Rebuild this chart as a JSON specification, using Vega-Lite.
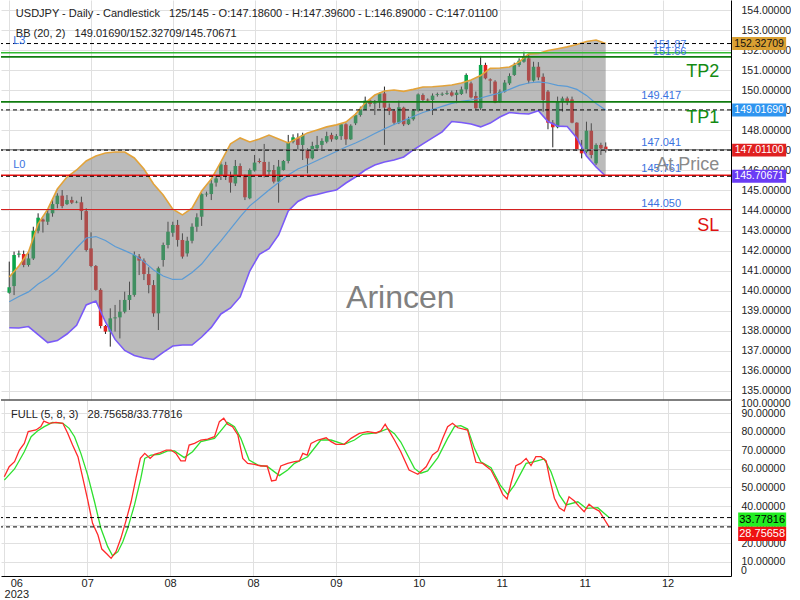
{
"$schema": "https://vega.github.io/schema/vega-lite/v6.json",
"padding": 0,
"autosize": {"type": "pad"},
"background": "white",
"spacing": 0,
"bounds": "flush",
"config": {"view": {"stroke": null}, "font": "Liberation Sans"},
"datasets": {
"candles": [
{"i":0,"o":139.90,"h":141.45,"l":139.85,"c":140.17},{"i":1,"o":140.23,"h":141.95,"l":139.78,"c":141.78},{"i":2,"o":141.80,"h":142.00,"l":141.66,"c":141.85},{"i":3,"o":141.83,"h":142.00,"l":141.17,"c":141.28},{"i":4,"o":141.28,"h":141.86,"l":141.20,"c":141.61},
{"i":5,"o":141.61,"h":143.19,"l":141.53,"c":142.99},{"i":6,"o":142.99,"h":143.86,"l":142.86,"c":143.64},{"i":7,"o":143.55,"h":143.60,"l":142.90,"c":143.45},{"i":8,"o":143.44,"h":144.02,"l":143.28,"c":143.86},{"i":9,"o":143.86,"h":144.61,"l":143.69,"c":144.32},
{"i":10,"o":144.32,"h":144.86,"l":144.11,"c":144.74},{"i":11,"o":144.74,"h":145.02,"l":144.11,"c":144.22},{"i":12,"o":144.32,"h":144.77,"l":144.27,"c":144.52},{"i":13,"o":144.52,"h":144.69,"l":144.32,"c":144.39},{"i":14,"o":144.40,"h":144.49,"l":144.36,"c":144.43},
{"i":15,"o":144.41,"h":144.69,"l":143.53,"c":143.97},{"i":16,"o":143.97,"h":144.11,"l":141.95,"c":142.03},{"i":17,"o":142.11,"h":142.91,"l":141.17,"c":141.23},{"i":18,"o":141.23,"h":141.28,"l":140.00,"c":140.04},{"i":19,"o":140.04,"h":140.12,"l":138.12,"c":138.24},
{"i":20,"o":138.24,"h":138.29,"l":137.84,"c":137.96},{"i":21,"o":137.96,"h":139.12,"l":137.21,"c":138.62},{"i":22,"o":138.62,"h":139.29,"l":137.96,"c":138.67},{"i":23,"o":138.67,"h":139.54,"l":137.62,"c":138.95},{"i":24,"o":138.95,"h":139.95,"l":138.87,"c":139.54},
{"i":25,"o":139.54,"h":140.45,"l":139.04,"c":139.79},{"i":26,"o":139.79,"h":141.95,"l":139.70,"c":141.78},{"i":27,"o":141.70,"h":141.83,"l":140.78,"c":141.50},{"i":28,"o":141.50,"h":141.61,"l":140.53,"c":140.83},{"i":29,"o":140.83,"h":141.17,"l":139.87,"c":140.28},
{"i":30,"o":140.28,"h":140.53,"l":138.70,"c":138.87},{"i":31,"o":138.87,"h":141.20,"l":138.04,"c":141.12},{"i":32,"o":141.53,"h":142.40,"l":141.20,"c":142.28},{"i":33,"o":142.28,"h":143.44,"l":142.11,"c":142.94},{"i":34,"o":142.89,"h":143.44,"l":142.69,"c":143.28},
{"i":35,"o":143.28,"h":143.53,"l":142.20,"c":142.53},{"i":36,"o":142.53,"h":142.86,"l":141.60,"c":141.70},{"i":37,"o":141.86,"h":142.69,"l":141.70,"c":142.49},{"i":38,"o":142.49,"h":143.36,"l":142.36,"c":143.19},{"i":39,"o":143.19,"h":143.86,"l":142.94,"c":143.66},
{"i":40,"o":143.69,"h":144.86,"l":143.23,"c":144.82},{"i":41,"o":144.80,"h":144.94,"l":144.69,"c":144.84},{"i":42,"o":144.82,"h":145.52,"l":144.52,"c":145.35},{"i":43,"o":145.39,"h":145.77,"l":145.19,"c":145.60},{"i":44,"o":145.72,"h":146.43,"l":145.52,"c":146.30},
{"i":45,"o":146.27,"h":146.43,"l":145.52,"c":145.72},{"i":46,"o":145.72,"h":145.94,"l":144.89,"c":145.39},{"i":47,"o":145.35,"h":146.52,"l":145.22,"c":146.22},{"i":48,"o":146.22,"h":146.35,"l":145.65,"c":145.72},{"i":49,"o":145.72,"h":145.80,"l":144.52,"c":144.66},
{"i":50,"o":144.61,"h":146.10,"l":144.56,"c":146.02},{"i":51,"o":145.99,"h":146.77,"l":145.94,"c":146.39},{"i":52,"o":146.47,"h":146.60,"l":146.35,"c":146.42},{"i":53,"o":146.42,"h":147.32,"l":145.65,"c":145.72},{"i":54,"o":145.94,"h":146.43,"l":145.77,"c":146.02},
{"i":55,"o":146.02,"h":146.27,"l":145.35,"c":145.44},{"i":56,"o":145.44,"h":146.52,"l":144.39,"c":146.19},{"i":57,"o":146.02,"h":146.52,"l":145.99,"c":146.47},{"i":58,"o":146.47,"h":147.77,"l":146.35,"c":147.40},{"i":59,"o":147.43,"h":147.80,"l":147.35,"c":147.65},
{"i":60,"o":147.63,"h":147.85,"l":147.02,"c":147.27},{"i":61,"o":147.27,"h":147.88,"l":146.52,"c":147.77},{"i":62,"o":147.05,"h":147.10,"l":145.85,"c":146.60},{"i":63,"o":146.60,"h":147.43,"l":146.55,"c":147.22},{"i":64,"o":147.10,"h":147.72,"l":147.02,"c":147.27},
{"i":65,"o":147.27,"h":147.60,"l":147.02,"c":147.47},{"i":66,"o":147.43,"h":147.93,"l":147.35,"c":147.71},{"i":67,"o":147.77,"h":147.88,"l":147.43,"c":147.55},{"i":68,"o":147.55,"h":147.81,"l":147.52,"c":147.71},{"i":69,"o":147.71,"h":148.35,"l":147.52,"c":148.30},
{"i":70,"o":148.30,"h":148.35,"l":147.27,"c":147.55},{"i":71,"o":147.55,"h":148.30,"l":147.52,"c":148.23},{"i":72,"o":148.35,"h":148.85,"l":148.26,"c":148.76},{"i":73,"o":148.76,"h":149.18,"l":148.68,"c":149.05},{"i":74,"o":149.05,"h":149.68,"l":149.01,"c":149.48},
{"i":75,"o":149.48,"h":149.54,"l":149.18,"c":149.31},{"i":76,"o":149.33,"h":149.51,"l":148.76,"c":149.37},{"i":77,"o":149.43,"h":149.88,"l":149.10,"c":149.84},{"i":78,"o":149.84,"h":150.18,"l":147.27,"c":149.13},{"i":79,"o":149.13,"h":149.34,"l":148.76,"c":148.96},
{"i":80,"o":148.96,"h":149.05,"l":148.26,"c":148.38},{"i":81,"o":148.38,"h":149.48,"l":148.31,"c":149.15},{"i":82,"o":149.13,"h":149.18,"l":148.21,"c":148.30},{"i":83,"o":148.30,"h":148.68,"l":148.26,"c":148.55},{"i":84,"o":148.55,"h":149.05,"l":148.48,"c":148.98},
{"i":85,"o":148.98,"h":149.84,"l":148.93,"c":149.79},{"i":86,"o":149.76,"h":149.84,"l":149.43,"c":149.51},{"i":87,"o":149.53,"h":149.59,"l":149.43,"c":149.49},{"i":88,"o":149.51,"h":149.84,"l":148.76,"c":149.73},{"i":89,"o":149.77,"h":149.88,"l":149.68,"c":149.81},
{"i":90,"o":149.78,"h":149.89,"l":149.71,"c":149.82},{"i":91,"o":149.82,"h":149.98,"l":149.76,"c":149.86},{"i":92,"o":149.89,"h":149.98,"l":149.68,"c":149.73},{"i":93,"o":149.76,"h":150.01,"l":149.35,"c":149.88},{"i":94,"o":149.81,"h":150.18,"l":149.76,"c":150.04},
{"i":95,"o":150.04,"h":150.84,"l":149.84,"c":150.76},{"i":96,"o":150.34,"h":150.43,"l":149.59,"c":149.64},{"i":97,"o":149.71,"h":149.93,"l":149.05,"c":149.10},{"i":98,"o":149.10,"h":151.71,"l":149.01,"c":151.26},{"i":99,"o":151.26,"h":151.37,"l":150.54,"c":150.59},
{"i":100,"o":150.54,"h":150.59,"l":149.84,"c":150.48},{"i":101,"o":150.43,"h":150.50,"l":149.35,"c":149.38},{"i":102,"o":149.43,"h":150.04,"l":149.38,"c":149.93},{"i":103,"o":149.93,"h":150.51,"l":149.88,"c":150.38},{"i":104,"o":150.34,"h":150.84,"l":150.26,"c":150.71},
{"i":105,"o":150.76,"h":151.37,"l":150.71,"c":151.26},{"i":106,"o":151.26,"h":151.59,"l":151.17,"c":151.47},{"i":107,"o":151.42,"h":151.92,"l":151.37,"c":151.67},{"i":108,"o":151.59,"h":151.76,"l":150.34,"c":150.48},{"i":109,"o":150.48,"h":151.42,"l":150.43,"c":151.17},
{"i":110,"o":151.17,"h":151.40,"l":150.50,"c":150.64},{"i":111,"o":150.67,"h":150.84,"l":148.93,"c":149.51},{"i":112,"o":149.93,"h":150.01,"l":148.05,"c":148.38},{"i":113,"o":148.38,"h":148.51,"l":147.15,"c":148.15},{"i":114,"o":148.15,"h":149.68,"l":148.10,"c":149.43},
{"i":115,"o":149.43,"h":149.68,"l":148.93,"c":149.59},{"i":116,"o":149.59,"h":149.68,"l":149.26,"c":149.43},{"i":117,"o":149.54,"h":149.68,"l":148.35,"c":148.38},{"i":118,"o":148.38,"h":148.40,"l":146.98,"c":147.02},{"i":119,"o":147.02,"h":147.52,"l":146.60,"c":146.85},
{"i":120,"o":146.93,"h":148.43,"l":146.85,"c":147.98},{"i":121,"o":147.98,"h":148.35,"l":146.60,"c":146.77},{"i":122,"o":146.35,"h":147.35,"l":146.27,"c":147.27},{"i":123,"o":147.27,"h":147.38,"l":146.77,"c":147.10},{"i":124,"o":147.186,"h":147.396,"l":146.89,"c":147.011}
],
"bb": [
{"i":0,"up":140.68,"mid":139.45,"lo":138.15},{"i":2,"up":141.23,"mid":139.71,"lo":138.14},{"i":4,"up":141.93,"mid":139.94,"lo":138.21},{"i":6,"up":143.33,"mid":140.33,"lo":137.81},{"i":8,"up":144.07,"mid":140.63,"lo":137.41},
{"i":10,"up":145.07,"mid":141.03,"lo":137.51},{"i":12,"up":145.67,"mid":141.58,"lo":137.84},{"i":14,"up":146.02,"mid":142.13,"lo":138.27},{"i":16,"up":146.47,"mid":142.63,"lo":139.29},{"i":18,"up":146.72,"mid":142.70,"lo":139.49},
{"i":20,"up":146.87,"mid":142.50,"lo":138.44},{"i":22,"up":146.92,"mid":142.20,"lo":137.57},{"i":24,"up":146.92,"mid":142.00,"lo":137.02},{"i":26,"up":146.62,"mid":141.78,"lo":136.77},{"i":28,"up":146.07,"mid":141.45,"lo":136.64},
{"i":30,"up":145.32,"mid":141.03,"lo":136.57},{"i":32,"up":144.77,"mid":140.73,"lo":136.92},{"i":34,"up":144.07,"mid":140.56,"lo":137.24},{"i":36,"up":143.78,"mid":140.58,"lo":137.29},{"i":38,"up":144.12,"mid":140.91,"lo":137.29},
{"i":40,"up":144.97,"mid":141.33,"lo":137.69},{"i":42,"up":145.57,"mid":141.93,"lo":138.17},{"i":44,"up":146.42,"mid":142.48,"lo":138.84},{"i":46,"up":147.32,"mid":143.08,"lo":139.14},{"i":48,"up":147.62,"mid":143.68,"lo":139.69},
{"i":50,"up":147.42,"mid":144.23,"lo":140.98},{"i":52,"up":147.57,"mid":144.62,"lo":141.81},{"i":54,"up":147.76,"mid":145.02,"lo":142.10},{"i":56,"up":147.57,"mid":145.40,"lo":142.78},{"i":58,"up":147.37,"mid":145.77,"lo":143.98},
{"i":60,"up":147.62,"mid":146.07,"lo":144.45},{"i":62,"up":147.87,"mid":146.27,"lo":144.70},{"i":64,"up":148.02,"mid":146.49,"lo":144.80},{"i":66,"up":148.17,"mid":146.72,"lo":144.92},{"i":68,"up":148.27,"mid":146.94,"lo":145.02},
{"i":70,"up":148.41,"mid":147.17,"lo":145.37},{"i":72,"up":148.81,"mid":147.37,"lo":145.67},{"i":74,"up":149.36,"mid":147.59,"lo":146.02},{"i":76,"up":149.76,"mid":147.84,"lo":146.27},{"i":78,"up":149.96,"mid":148.07,"lo":146.42},
{"i":80,"up":150.01,"mid":148.29,"lo":146.52},{"i":82,"up":149.94,"mid":148.49,"lo":146.67},{"i":84,"up":150.04,"mid":148.69,"lo":147.02},{"i":86,"up":150.16,"mid":148.89,"lo":147.32},{"i":88,"up":150.17,"mid":149.04,"lo":147.62},
{"i":90,"up":150.21,"mid":149.19,"lo":147.92},{"i":92,"up":150.26,"mid":149.34,"lo":148.44},{"i":94,"up":150.36,"mid":149.44,"lo":148.39},{"i":96,"up":150.51,"mid":149.51,"lo":148.31},{"i":98,"up":150.73,"mid":149.61,"lo":148.17},
{"i":100,"up":151.09,"mid":149.74,"lo":148.36},{"i":102,"up":151.11,"mid":149.86,"lo":148.66},{"i":104,"up":151.16,"mid":150.04,"lo":148.89},{"i":106,"up":151.41,"mid":150.24,"lo":148.84},{"i":108,"up":151.81,"mid":150.36,"lo":148.81},
{"i":110,"up":151.83,"mid":150.42,"lo":148.98},{"i":112,"up":151.98,"mid":150.36,"lo":148.44},{"i":114,"up":152.07,"mid":150.24,"lo":148.21},{"i":116,"up":152.16,"mid":150.19,"lo":148.19},{"i":118,"up":152.28,"mid":150.04,"lo":147.62},
{"i":120,"up":152.43,"mid":149.74,"lo":146.72},{"i":122,"up":152.50,"mid":149.34,"lo":146.17},{"i":124,"up":152.327,"mid":149.017,"lo":145.707}
],
"k": [
{"i":0,"v":55.8},{"i":1.0,"v":61.2},{"i":2.1,"v":63.9},{"i":3.1,"v":70.2},{"i":4.1,"v":73.8},{"i":4.9,"v":80.1},{"i":6.5,"v":81.0},{"i":7.5,"v":82.8},{"i":8.1,"v":85.8},{"i":9.2,"v":84.6},
{"i":10.6,"v":85.1},{"i":12.0,"v":84.6},{"i":13.0,"v":79.2},{"i":14.0,"v":72.9},{"i":15.1,"v":66.6},{"i":16.1,"v":55.0},{"i":17.1,"v":43.3},{"i":18.1,"v":30.7},{"i":19.2,"v":24.4},{"i":20.0,"v":16.8},
{"i":21.1,"v":14.0},{"i":21.9,"v":11.8},{"i":22.9,"v":15.4},{"i":23.9,"v":22.6},{"i":24.9,"v":31.6},{"i":26.0,"v":42.3},{"i":27.0,"v":55.0},{"i":27.9,"v":65.7},{"i":28.8,"v":68.4},{"i":29.9,"v":65.7},
{"i":30.8,"v":67.9},{"i":32.0,"v":68.8},{"i":33.2,"v":70.2},{"i":34.2,"v":70.2},{"i":35.2,"v":68.4},{"i":36.2,"v":64.3},{"i":37.1,"v":64.3},{"i":37.9,"v":72.9},{"i":39.0,"v":73.8},{"i":40.3,"v":75.6},
{"i":41.7,"v":76.1},{"i":43.1,"v":77.4},{"i":44.1,"v":85.5},{"i":45.0,"v":87.3},{"i":45.8,"v":84.1},{"i":46.8,"v":82.8},{"i":47.9,"v":78.3},{"i":48.9,"v":65.7},{"i":49.9,"v":63.0},{"i":51.3,"v":62.5},
{"i":52.6,"v":61.6},{"i":53.9,"v":61.6},{"i":54.8,"v":53.5},{"i":55.7,"v":54.0},{"i":56.7,"v":61.6},{"i":58.1,"v":63.0},{"i":59.5,"v":63.9},{"i":60.5,"v":64.3},{"i":61.2,"v":68.4},{"i":62.1,"v":67.5},
{"i":62.9,"v":73.8},{"i":64.3,"v":75.6},{"i":66.0,"v":76.8},{"i":67.0,"v":74.7},{"i":68.0,"v":73.3},{"i":69.7,"v":73.3},{"i":71.1,"v":76.5},{"i":72.8,"v":79.2},{"i":74.5,"v":80.1},{"i":76.2,"v":79.4},
{"i":77.2,"v":80.5},{"i":78.1,"v":84.1},{"i":78.9,"v":80.5},{"i":80.0,"v":75.6},{"i":81.3,"v":69.3},{"i":83.0,"v":59.4},{"i":84.8,"v":57.1},{"i":86.5,"v":61.2},{"i":87.8,"v":67.5},{"i":88.9,"v":69.7},
{"i":89.9,"v":76.5},{"i":90.9,"v":82.8},{"i":91.9,"v":84.6},{"i":93.0,"v":82.2},{"i":95.0,"v":81.0},{"i":96.7,"v":63.6},{"i":98.1,"v":63.0},{"i":99.8,"v":59.4},{"i":101.2,"v":52.3},{"i":102.2,"v":46.3},
{"i":103.1,"v":43.8},{"i":103.9,"v":52.3},{"i":104.9,"v":61.8},{"i":105.9,"v":63.0},{"i":107.0,"v":65.7},{"i":108.0,"v":61.8},{"i":109.0,"v":66.6},{"i":110.0,"v":66.6},{"i":111.1,"v":64.3},{"i":111.9,"v":54.0},
{"i":112.8,"v":44.2},{"i":113.8,"v":39.1},{"i":114.8,"v":37.3},{"i":115.8,"v":45.0},{"i":116.9,"v":42.7},{"i":117.9,"v":39.7},{"i":118.9,"v":37.0},{"i":119.9,"v":41.0},{"i":120.9,"v":38.8},{"i":122.0,"v":37.3},
{"i":123.0,"v":33.0},{"i":124,"v":28.75658}
],
"d": [
{"i":0,"v":54.0},{"i":2.1,"v":60.0},{"i":4.1,"v":69.3},{"i":5.5,"v":77.4},{"i":6.8,"v":80.5},{"i":8.2,"v":82.8},{"i":9.9,"v":85.1},{"i":12.0,"v":84.6},{"i":13.3,"v":81.9},{"i":14.4,"v":77.4},
{"i":15.7,"v":68.4},{"i":17.1,"v":56.7},{"i":18.5,"v":42.3},{"i":19.8,"v":28.0},{"i":21.2,"v":18.1},{"i":22.2,"v":13.2},{"i":23.3,"v":15.4},{"i":24.3,"v":20.8},{"i":25.3,"v":28.0},{"i":26.7,"v":40.6},
{"i":28.0,"v":55.0},{"i":28.8,"v":65.7},{"i":30.1,"v":67.5},{"i":31.8,"v":67.9},{"i":33.5,"v":69.7},{"i":34.9,"v":69.7},{"i":36.9,"v":66.1},{"i":38.6,"v":69.3},{"i":40.3,"v":74.7},{"i":43.1,"v":76.5},
{"i":44.8,"v":81.9},{"i":45.8,"v":85.1},{"i":47.2,"v":82.8},{"i":48.5,"v":76.5},{"i":50.2,"v":64.8},{"i":52.0,"v":62.1},{"i":54.0,"v":61.2},{"i":56.4,"v":56.4},{"i":58.1,"v":59.4},{"i":59.5,"v":63.0},
{"i":62.2,"v":66.6},{"i":64.9,"v":75.6},{"i":67.0,"v":75.6},{"i":69.7,"v":73.3},{"i":71.8,"v":75.6},{"i":73.5,"v":78.7},{"i":76.6,"v":79.6},{"i":78.6,"v":81.7},{"i":80.0,"v":79.0},{"i":81.3,"v":74.5},
{"i":84.1,"v":60.3},{"i":85.4,"v":57.7},{"i":86.8,"v":58.9},{"i":88.9,"v":66.1},{"i":90.9,"v":76.5},{"i":92.3,"v":82.8},{"i":93.6,"v":83.3},{"i":95.0,"v":81.5},{"i":96.4,"v":71.1},{"i":97.7,"v":63.9},
{"i":99.8,"v":60.7},{"i":101.7,"v":51.3},{"i":103.2,"v":46.3},{"i":104.6,"v":51.3},{"i":107.0,"v":63.0},{"i":108.7,"v":63.9},{"i":110.7,"v":65.4},{"i":112.1,"v":58.5},{"i":113.8,"v":46.0},{"i":115.2,"v":40.6},
{"i":117.6,"v":42.3},{"i":119.3,"v":38.8},{"i":121.7,"v":39.1},{"i":124,"v":33.77816}
]
},
"vconcat": [
{
"width": 730, "height": 400,
"resolve": {"axis": {"x": "independent", "y": "independent"}},
"layer": [
{"data": {"name": "candles"},
 "mark": {"type": "rule", "color": "#222", "strokeWidth": 1},
 "encoding": {
  "x": {"field": "i", "type": "quantitative", "scale": {"domain": [-0.677, 149.01], "nice": false, "zero": false},
        "axis": {"values": [0,17,34,51,68,85,102,119,136], "labels": false, "ticks": false, "domain": false, "grid": true, "gridColor": "#e0e0e0", "title": null}},
  "y": {"field": "l", "type": "quantitative", "scale": {"domain": [134.548, 154.499], "nice": false, "zero": false},
        "axis": {"orient": "right", "values": [135,136,137,138,139,140,141,142,143,144,145,146,147,148,149,150,151,152,153,154], "format": ".5f", "grid": true, "gridColor": "#e0e0e0", "ticks": false, "labelPadding": 10, "domainColor": "#000", "labelFontSize": 10.5, "labelColor": "#222", "title": null, "labelOverlap": false}},
  "y2": {"field": "h"}
 }},
{"data": {"name": "candles"},
 "mark": {"type": "bar", "width": 3.6},
 "encoding": {
  "x": {"field": "i", "type": "quantitative", "axis": null},
  "y": {"field": "o", "type": "quantitative", "axis": null},
  "y2": {"field": "c"},
  "color": {"condition": {"test": "datum.c >= datum.o", "value": "#0aa64a"}, "value": "#e3211f"}
 }},
{"data": {"name": "bb"},
 "mark": {"type": "area", "color": "#777777", "opacity": 0.5},
 "encoding": {
  "x": {"field": "i", "type": "quantitative", "axis": null},
  "y": {"field": "up", "type": "quantitative", "axis": null},
  "y2": {"field": "lo"}
 }},
{"data": {"name": "bb"},
 "mark": {"type": "line", "color": "#e3a33a", "strokeWidth": 1.6},
 "encoding": {"x": {"field": "i", "type": "quantitative", "axis": null}, "y": {"field": "up", "type": "quantitative", "axis": null}}},
{"data": {"name": "bb"},
 "mark": {"type": "line", "color": "#5b9bd5", "strokeWidth": 1.2},
 "encoding": {"x": {"field": "i", "type": "quantitative", "axis": null}, "y": {"field": "mid", "type": "quantitative", "axis": null}}},
{"data": {"name": "bb"},
 "mark": {"type": "line", "color": "#7a5af8", "strokeWidth": 1.6},
 "encoding": {"x": {"field": "i", "type": "quantitative", "axis": null}, "y": {"field": "lo", "type": "quantitative", "axis": null}}},
{"data": {"values": [{"p":151.87,"name":"L3"},{"p":151.66,"name":"TP2"},{"p":149.417,"name":"TP1"},{"p":147.041,"name":"Price"},{"p":145.761,"name":"L0"},{"p":144.05,"name":"SL"}]},
 "mark": {"type": "rule"},
 "encoding": {
  "y": {"field": "p", "type": "quantitative", "axis": null},
  "strokeWidth": {"condition": {"test": "datum.name == 'SL' || datum.name == 'Price'", "value": 1.2}, "value": 1.6},
  "color": {"condition": [
    {"test": "datum.name == 'L3'", "value": "#33bb33"},
    {"test": "datum.name == 'TP2' || datum.name == 'TP1'", "value": "#107c10"},
    {"test": "datum.name == 'Price'", "value": "#8c8c8c"},
    {"test": "datum.name == 'SL'", "value": "#d42020"}], "value": "#f01010"}
 }},
{"data": {"values": [{"p":152.32709},{"p":149.0169},{"p":147.011},{"p":145.70671}]},
 "mark": {"type": "rule", "color": "#000", "strokeWidth": 1, "strokeDash": [4,3]},
 "encoding": {"y": {"field": "p", "type": "quantitative", "axis": null}}},
{"data": {"values": [
  {"i":1.37,"p":153.80,"t":"USDJPY - Daily - Candlestick\u00a0\u00a0\u00a0125/145 - O:147.18600 - H:147.39600 - L:146.89000 - C:147.01100"},
  {"i":1.37,"p":152.80,"t":"BB (20, 2)\u00a0\u00a0\u00a0149.01690/152.32709/145.70671"}]},
 "mark": {"type": "text", "align": "left", "baseline": "middle", "fontSize": 11, "color": "#222"},
 "encoding": {"x": {"field": "i", "type": "quantitative", "axis": null}, "y": {"field": "p", "type": "quantitative", "axis": null}, "text": {"field": "t"}}},
{"data": {"values": [
  {"i":0.82,"p":152.45,"t":"L3"},{"i":0.82,"p":146.27,"t":"L0"},
  {"i":133.8,"p":152.25,"t":"151.87"},{"i":133.8,"p":151.93,"t":"151.66"},
  {"i":131.4,"p":149.71,"t":"149.417"},{"i":131.4,"p":147.37,"t":"147.041"},
  {"i":131.4,"p":146.07,"t":"145.761"},{"i":131.4,"p":144.32,"t":"144.050"}]},
 "mark": {"type": "text", "align": "left", "baseline": "middle", "fontSize": 11, "color": "#3a72e0"},
 "encoding": {"x": {"field": "i", "type": "quantitative", "axis": null}, "y": {"field": "p", "type": "quantitative", "axis": null}, "text": {"field": "t"}}},
{"data": {"values": [
  {"i":147.6,"p":150.91,"t":"TP2"},{"i":147.6,"p":148.61,"t":"TP1"},
  {"i":147.6,"p":143.23,"t":"SL"},{"i":147.6,"p":146.27,"t":"At Price"}]},
 "mark": {"type": "text", "align": "right", "baseline": "middle", "fontSize": 18},
 "encoding": {"x": {"field": "i", "type": "quantitative", "axis": null}, "y": {"field": "p", "type": "quantitative", "axis": null}, "text": {"field": "t"},
  "color": {"condition": [
    {"test": "datum.t == 'SL'", "value": "#e01010"},
    {"test": "datum.t == 'At Price'", "value": "#8a8a8a"}], "value": "#138a13"}}},
{"data": {"values": [{"i":81.3,"p":139.64,"t":"Arincen"}]},
 "mark": {"type": "text", "align": "center", "baseline": "middle", "fontSize": 32, "color": "#808080"},
 "encoding": {"x": {"field": "i", "type": "quantitative", "axis": null}, "y": {"field": "p", "type": "quantitative", "axis": null}, "text": {"field": "t"}}},
{"data": {"values": [{"p":152.32709,"k":"up"},{"p":149.0169,"k":"mid"},{"p":147.011,"k":"close"},{"p":145.70671,"k":"lo"}]},
 "mark": {"type": "point", "shape": "M-1,-0.24H1V0.24H-1Z", "size": 2916, "filled": true, "opacity": 1, "strokeWidth": 0},
 "encoding": {"x": {"datum": 155.9, "type": "quantitative", "axis": null}, "y": {"field": "p", "type": "quantitative", "axis": null},
  "color": {"condition": [
    {"test": "datum.k == 'up'", "value": "#d9a032"},
    {"test": "datum.k == 'mid'", "value": "#2f95f0"},
    {"test": "datum.k == 'close'", "value": "#e02020"}], "value": "#6a3cf5"}}},
{"data": {"values": [{"p":152.32709,"k":"up","t":"152.32709"},{"p":149.0169,"k":"mid","t":"149.01690"},{"p":147.011,"k":"close","t":"147.01100"},{"p":145.70671,"k":"lo","t":"145.70671"}]},
 "mark": {"type": "text", "align": "center", "baseline": "middle", "fontSize": 10.5},
 "encoding": {"x": {"datum": 155.9, "type": "quantitative", "axis": null}, "y": {"field": "p", "type": "quantitative", "axis": null}, "text": {"field": "t"},
  "color": {"condition": {"test": "datum.k == 'up'", "value": "#111"}, "value": "#ffffff"}}}
]
},
{
"width": 730, "height": 176,
"resolve": {"axis": {"x": "independent", "y": "independent"}},
"layer": [
{"data": {"name": "d"},
 "mark": {"type": "line", "color": "#2ee02e", "strokeWidth": 1.3},
 "encoding": {
  "x": {"field": "i", "type": "quantitative", "scale": {"domain": [-0.677, 149.01], "nice": false, "zero": false},
        "axis": {"values": [0,17,34,51,68,85,102,119,136], "labelExpr": "datum.value == 0 ? ['06','2023'] : ['06','07','08','08','09','10','11','11','12'][datum.value / 17]",
                 "grid": true, "gridColor": "#e0e0e0", "ticks": false, "domainColor": "#000", "labelPadding": 1, "labelFontSize": 11, "labelColor": "#222", "title": null,
                 "labelOverlap": false, "labelFlush": false, "labelLineHeight": 11,
                 "labelOffset": {"condition": {"test": "datum.value == 0", "value": 12}, "value": 0}}},
  "y": {"field": "v", "type": "quantitative", "scale": {"domain": [2.29, 97.17], "nice": false, "zero": false},
        "axis": {"orient": "right", "values": [10,20,30,40,50,60,70,80,90], "format": ".5f", "grid": true, "gridColor": "#e0e0e0", "ticks": false, "labelPadding": 10, "domainColor": "#000", "labelFontSize": 10.5, "labelColor": "#222", "title": null, "labelOverlap": false}}
 }},
{"data": {"name": "k"},
 "mark": {"type": "line", "color": "#ff2a2a", "strokeWidth": 1.3},
 "encoding": {"x": {"field": "i", "type": "quantitative", "axis": null}, "y": {"field": "v", "type": "quantitative", "axis": null}}},
{"data": {"values": [{"v":33.77816},{"v":28.75658}]},
 "mark": {"type": "rule", "color": "#000", "strokeWidth": 1, "strokeDash": [4,3]},
 "encoding": {"y": {"field": "v", "type": "quantitative", "axis": null}}},
{"data": {"values": [{"v":97.17}]},
 "mark": {"type": "rule", "color": "#555", "strokeWidth": 1.5},
 "encoding": {"y": {"field": "v", "type": "quantitative", "axis": null}}},
{"data": {"values": [{"i":1.37,"v":89.1,"t":"FULL (5, 8, 3)\u00a0\u00a0\u00a028.75658/33.77816"}]},
 "mark": {"type": "text", "align": "left", "baseline": "middle", "fontSize": 11, "color": "#222"},
 "encoding": {"x": {"field": "i", "type": "quantitative", "axis": null}, "y": {"field": "v", "type": "quantitative", "axis": null}, "text": {"field": "t"}}},
{"data": {"values": [{"i":151.06,"v":95.0,"t":"100.00000"},{"i":151.06,"v":5.0,"t":"0"}]},
 "mark": {"type": "text", "align": "left", "baseline": "middle", "fontSize": 10.5, "color": "#222"},
 "encoding": {"x": {"field": "i", "type": "quantitative", "axis": null}, "y": {"field": "v", "type": "quantitative", "axis": null}, "text": {"field": "t"}}},
{"data": {"values": [{"v":33.77816}]},
 "mark": {"type": "point", "shape": "M-1,-0.3H1V0.3H-1Z", "size": 2304, "filled": true, "opacity": 1, "strokeWidth": 0, "color": "#22ee22", "yOffset": 2},
 "encoding": {"x": {"datum": 155.4, "type": "quantitative", "axis": null}, "y": {"field": "v", "type": "quantitative", "axis": null}}},
{"data": {"values": [{"v":28.75658}]},
 "mark": {"type": "point", "shape": "M-1,-0.3H1V0.3H-1Z", "size": 2304, "filled": true, "opacity": 1, "strokeWidth": 0, "color": "#ee1111", "yOffset": 7},
 "encoding": {"x": {"datum": 155.4, "type": "quantitative", "axis": null}, "y": {"field": "v", "type": "quantitative", "axis": null}}},
{"data": {"values": [{"v":33.77816,"t":"33.77816"}]},
 "mark": {"type": "text", "align": "center", "baseline": "middle", "fontSize": 11, "color": "#000", "yOffset": 2},
 "encoding": {"x": {"datum": 155.4, "type": "quantitative", "axis": null}, "y": {"field": "v", "type": "quantitative", "axis": null}, "text": {"field": "t"}}},
{"data": {"values": [{"v":28.75658,"t":"28.75658"}]},
 "mark": {"type": "text", "align": "center", "baseline": "middle", "fontSize": 11, "color": "#fff", "yOffset": 7},
 "encoding": {"x": {"datum": 155.4, "type": "quantitative", "axis": null}, "y": {"field": "v", "type": "quantitative", "axis": null}, "text": {"field": "t"}}}
]
}
]
}
